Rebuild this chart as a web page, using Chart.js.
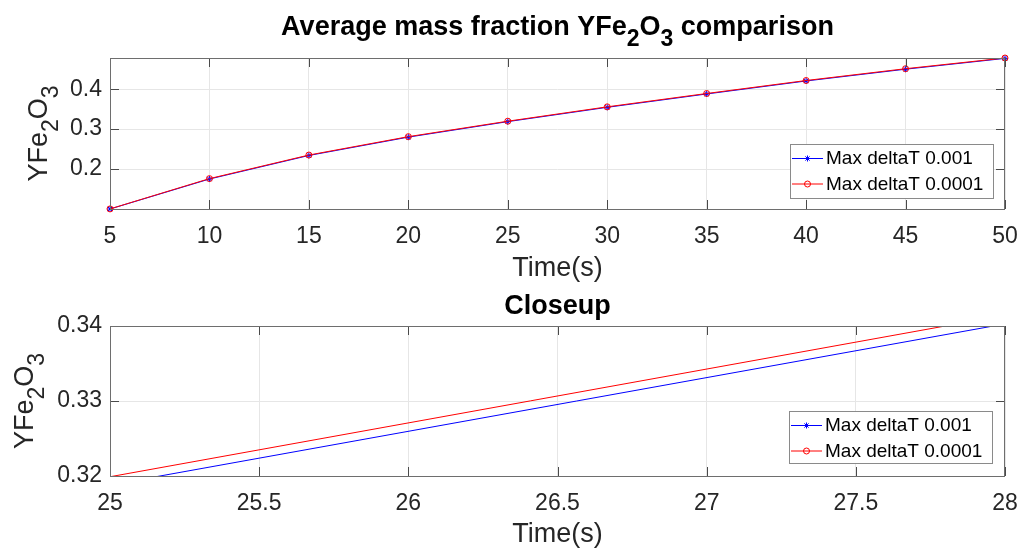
<!DOCTYPE html>
<html>
<head>
<meta charset="utf-8">
<title>Average mass fraction YFe2O3 comparison</title>
<script src="https://cdn.jsdelivr.net/npm/chart.js@4/dist/chart.umd.min.js"></script>
<style>
    html, body { margin: 0; padding: 0; background: #fff; }
    canvas { position: absolute; left: 0; top: 0; }
</style>
</head>
<body>
<canvas id="graficaCompleta" width="1022" height="550"></canvas>
<canvas id="graficaDetalle" width="1022" height="550"></canvas>
<script>
// Datos de la simulación: fracción másica media de YFe2O3
const tiempos = [5, 10, 15, 20, 25, 30, 35, 40, 45, 50];
const serieDt001 = [0.1002, 0.1752, 0.2341, 0.2800, 0.3188, 0.3546, 0.3880, 0.4205, 0.4500, 0.4770];
const serieDt0001 = [0.1004, 0.1762, 0.2352, 0.2812, 0.3199, 0.3558, 0.3892, 0.4217, 0.4512, 0.4780];
const etiquetas = ['Max deltaT 0.001', 'Max deltaT 0.0001'];

// Marcas de los ejes
const xTicksCompleta = [5, 10, 15, 20, 25, 30, 35, 40, 45, 50];
const yTicksCompleta = [0.2, 0.3, 0.4];
const xTicksDetalle = [25, 25.5, 26, 26.5, 27, 27.5, 28];
const yTicksDetalle = [0.32, 0.33, 0.34];

const familia = '"Liberation Sans", Arial, Helvetica, sans-serif';
const colorTexto = '#262626';
const colorCaja = '#6e6e6e';
const colorRejilla = '#e6e6e6';
const largoTick = 9;

// Texto con subíndices (YFe2O3), opcionalmente girado
function textoRico(ctx, partes, x, y, tam, negrita, girado) {
    const pre = negrita ? 'bold ' : '';
    const fuenteBase = pre + tam + 'px ' + familia;
    const fuenteSub = pre + Math.round(tam * 0.84) + 'px ' + familia;
    ctx.save();
    ctx.translate(x, y);
    if (girado) ctx.rotate(-Math.PI / 2);
    ctx.textBaseline = 'alphabetic';
    ctx.textAlign = 'left';
    ctx.fillStyle = negrita ? '#000' : colorTexto;
    let ancho = 0;
    const medidas = partes.map(p => {
        ctx.font = p.sub ? fuenteSub : fuenteBase;
        const w = ctx.measureText(p.t).width;
        ancho += w;
        return w;
    });
    let cx = -ancho / 2;
    partes.forEach((p, i) => {
        ctx.font = p.sub ? fuenteSub : fuenteBase;
        ctx.fillText(p.t, cx, p.sub ? tam * 0.42 : 0);
        cx += medidas[i];
    });
    ctx.restore();
}

function marcador(ctx, estilo, x, y, r, color) {
    ctx.save();
    ctx.strokeStyle = color;
    ctx.lineWidth = 1;
    ctx.beginPath();
    if (estilo === 'star') {
        for (let k = 0; k < 4; k++) {
            const ang = k * Math.PI / 4;
            ctx.moveTo(x - r * Math.cos(ang), y - r * Math.sin(ang));
            ctx.lineTo(x + r * Math.cos(ang), y + r * Math.sin(ang));
        }
    } else {
        ctx.arc(x, y, r, 0, Math.PI * 2);
    }
    ctx.stroke();
    ctx.restore();
}

// Caja, marcas interiores, títulos y leyenda al estilo MATLAB
const marcoEjes = {
    id: 'marcoEjes',
    afterDatasetsDraw(chart, args, opts) {
        const { ctx, chartArea: a, scales: { x, y } } = chart;
        ctx.save();
        ctx.strokeStyle = '#4a4a4a';
        ctx.lineWidth = 1;
        ctx.beginPath();
        x.ticks.forEach(t => {
            const px = Math.round(x.getPixelForValue(t.value)) + 0.5;
            ctx.moveTo(px, a.bottom); ctx.lineTo(px, a.bottom - largoTick);
            ctx.moveTo(px, a.top); ctx.lineTo(px, a.top + largoTick);
        });
        y.ticks.forEach(t => {
            const py = Math.round(y.getPixelForValue(t.value)) + 0.5;
            ctx.moveTo(a.left, py); ctx.lineTo(a.left + largoTick, py);
            ctx.moveTo(a.right, py); ctx.lineTo(a.right - largoTick, py);
        });
        ctx.stroke();
        ctx.strokeStyle = colorCaja;
        ctx.strokeRect(a.left + 0.5, a.top + 0.5, a.right - a.left - 1, a.bottom - a.top);
        ctx.restore();
    },
    afterDraw(chart, args, opts) {
        const { ctx, chartArea: a } = chart;
        const centro = (a.left + a.right) / 2;
        textoRico(ctx, opts.titulo, centro, opts.yTitulo, 27, true, false);
        textoRico(ctx, [{ t: 'Time(s)' }], centro, opts.yEtiquetaX, 27, false, false);
        textoRico(ctx, [{ t: 'YFe' }, { t: '2', sub: true }, { t: 'O' }, { t: '3', sub: true }],
            opts.xEtiquetaY, (a.top + a.bottom) / 2, 27, false, true);

        // Leyenda
        const L = opts.leyenda;
        ctx.save();
        ctx.fillStyle = '#fff';
        ctx.fillRect(L.x, L.y, L.w, L.h);
        ctx.strokeStyle = '#8a8a8a';
        ctx.lineWidth = 1;
        ctx.strokeRect(L.x + 0.5, L.y + 0.5, L.w, L.h);
        ctx.font = '19px ' + familia;
        ctx.textBaseline = 'middle';
        ctx.fillStyle = '#000';
        chart.data.datasets.forEach((ds, i) => {
            const fy = L.y + 14 + i * 25.5;
            ctx.strokeStyle = ds.borderColor;
            ctx.beginPath();
            ctx.moveTo(L.x + 2, fy + 0.5);
            ctx.lineTo(L.x + 33, fy + 0.5);
            ctx.stroke();
            marcador(ctx, ds.estiloLeyenda, L.x + 17.5, fy + 0.5, 3, ds.borderColor);
            ctx.fillText(ds.label, L.x + 36, fy + 1);
        });
        ctx.restore();
    }
};

function formato(v) {
    return String(parseFloat(v.toFixed(3)));
}

function ejes(xMin, xMax, yMin, yMax, xTicks, yTicks) {
    const comunes = {
        type: 'linear',
        grid: { color: colorRejilla, drawTicks: false },
        border: { display: false },
    };
    return {
        x: Object.assign({}, comunes, {
            min: xMin, max: xMax,
            afterBuildTicks: s => { s.ticks = xTicks.map(v => ({ value: v })); },
            afterFit: s => { s.height = 40; s.paddingLeft = 0; s.paddingRight = 0; },
            ticks: { font: { size: 23, family: familia }, color: colorTexto, padding: 14, maxRotation: 0, autoSkip: false, callback: formato }
        }),
        y: Object.assign({}, comunes, {
            min: yMin, max: yMax,
            afterBuildTicks: s => { s.ticks = yTicks.map(v => ({ value: v })); },
            afterFit: s => { s.width = 110; s.paddingTop = 0; s.paddingBottom = 0; },
            ticks: { font: { size: 23, family: familia }, color: colorTexto, padding: 8, autoSkip: false, callback: formato }
        })
    };
}

function series(conMarcadores) {
    const puntos = serie => tiempos.map((t, i) => ({ x: t, y: serie[i] }));
    return [{
        label: etiquetas[0],
        data: puntos(serieDt001),
        borderColor: 'rgb(0, 0, 255)',
        borderWidth: 1,
        pointStyle: 'star',
        pointRadius: conMarcadores ? 3 : 0,
        pointBorderColor: 'rgb(0, 0, 255)',
        pointBorderWidth: 1,
        estiloLeyenda: 'star',
        order: 1,
        clip: conMarcadores ? false : undefined
    }, {
        label: etiquetas[1],
        data: puntos(serieDt0001),
        borderColor: 'rgb(255, 0, 0)',
        borderWidth: 1,
        pointStyle: 'circle',
        pointRadius: conMarcadores ? 3 : 0,
        pointBackgroundColor: 'rgba(0, 0, 0, 0)',
        pointBorderColor: 'rgb(255, 0, 0)',
        pointBorderWidth: 1,
        estiloLeyenda: 'circle',
        order: 0,
        clip: conMarcadores ? false : undefined
    }];
}

function crearGrafica(id, config) {
    new Chart(document.getElementById(id), {
        type: 'line',
        data: { datasets: config.datasets },
        options: {
            responsive: false,
            animation: false,
            devicePixelRatio: 1,
            layout: { padding: config.padding },
            scales: config.scales,
            plugins: {
                legend: { display: false },
                tooltip: { enabled: false },
                marcoEjes: config.marco
            }
        },
        plugins: [marcoEjes]
    });
}

// Gráfica completa (eje ajustado a los datos)
const todos = serieDt001.concat(serieDt0001);
crearGrafica('graficaCompleta', {
    datasets: series(true),
    padding: { top: 58, right: 17, left: 0, bottom: 550 - 209 - 40 },
    scales: ejes(5, 50, Math.min(...todos), Math.max(...todos), xTicksCompleta, yTicksCompleta),
    marco: {
        titulo: [{ t: 'Average mass fraction YFe' }, { t: '2', sub: true }, { t: 'O' }, { t: '3', sub: true }, { t: ' comparison' }],
        yTitulo: 35,
        yEtiquetaX: 276,
        xEtiquetaY: 47,
        leyenda: { x: 790, y: 144, w: 203, h: 54 }
    }
});

// Detalle entre 25 y 28 s
crearGrafica('graficaDetalle', {
    datasets: series(false),
    padding: { top: 326, right: 17, left: 0, bottom: 550 - 476 - 40 },
    scales: ejes(25, 28, 0.32, 0.34, xTicksDetalle, yTicksDetalle),
    marco: {
        titulo: [{ t: 'Closeup' }],
        yTitulo: 314,
        yEtiquetaX: 542,
        xEtiquetaY: 33,
        leyenda: { x: 789, y: 411, w: 203, h: 52 }
    }
});
</script>
</body>
</html>
